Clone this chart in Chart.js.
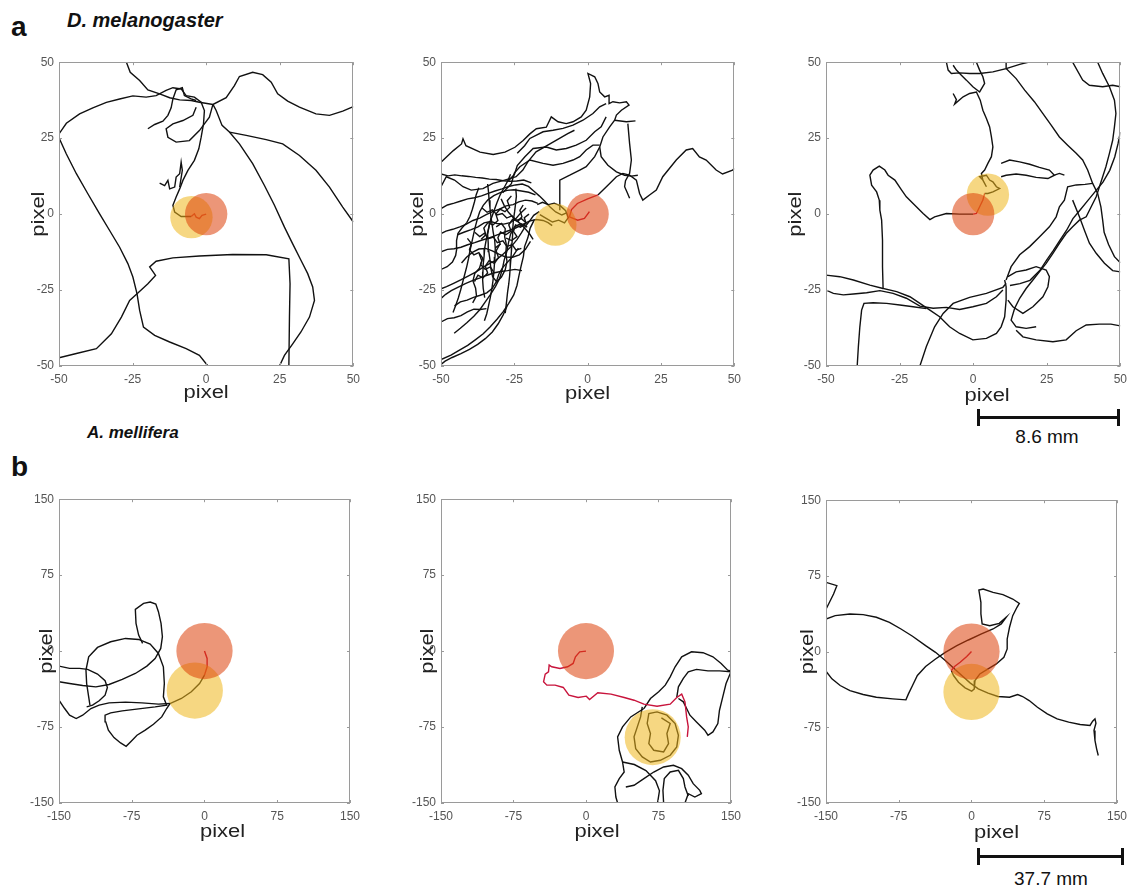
<!DOCTYPE html>
<html>
<head>
<meta charset="utf-8">
<script src="https://cdn.jsdelivr.net/npm/chart.js@4.4.1/dist/chart.umd.min.js"></script>
<style>
    body { margin: 0; width: 1135px; height: 888px; background: #fff; position: relative; overflow: hidden; font-family: "Liberation Sans", Arial, sans-serif; color: #111; }
    canvas { position: absolute; }
    .letter { position: absolute; font-size: 28px; font-weight: bold; line-height: 28px; }
    .species { position: absolute; font-weight: bold; font-style: italic; }
    .bar { position: absolute; background: #111; }
    .barText { position: absolute; width: 140px; text-align: center; font-size: 19px; line-height: 19px; }
</style>
</head>
<body>

<div class="letter" style="left:11px; top:13px;">a</div>
<div class="species" style="left:67px; top:10px; font-size:20px; line-height:20px;">D. melanogaster</div>
<div class="letter" style="left:11px; top:453px;">b</div>
<div class="species" style="left:87px; top:424px; font-size:17px; line-height:17px;">A. mellifera</div>

<div class="bar" style="left:977px; top:416px; width:143px; height:3px;"></div>
<div class="bar" style="left:977px; top:409px; width:3px; height:17px;"></div>
<div class="bar" style="left:1117px; top:409px; width:3px; height:17px;"></div>
<div class="barText" style="left:977px; top:427px;">8.6 mm</div>

<div class="bar" style="left:977px; top:855px; width:147px; height:3px;"></div>
<div class="bar" style="left:977px; top:848px; width:3px; height:17px;"></div>
<div class="bar" style="left:1121px; top:848px; width:3px; height:17px;"></div>
<div class="barText" style="left:981px; top:869px;">37.7 mm</div>

<canvas id="a1"></canvas>
<canvas id="a2"></canvas>
<canvas id="a3"></canvas>
<canvas id="b1"></canvas>
<canvas id="b2"></canvas>
<canvas id="b3"></canvas>

<script>
// axis ticks
const aTicks = [-50, -25, 0, 25, 50];
const bTicks = [-150, -75, 0, 75, 150];

// zone radius (pixel units) and zone centres: [target, other]
const aRadius = 7.2;
const bRadius = 29;
const a1Zones = [[0, 0], [-5, -1]];
const a2Zones = [[0, 0], [-11, -3.5]];
const a3Zones = [[0, 0], [5, 6.4]];
const b1Zones = [[0, 0], [-10, -39]];
const b2Zones = [[0, 0], [69, -85]];
const b3Zones = [[0, 0], [0, -40]];

// ---- D. melanogaster tracks ----
const a1Red = [[0, 0], [-1.4, -0.4], [-2.3, -1.5], [-3.4, -1], [-4, 0.1], [-5.1, -0.8]];
const a1Black = [
    [[-27.1, 50], [-25.8, 46.7], [-22.6, 44], [-19.8, 40.9], [-15.8, 39.6], [-12.4, 38.3], [-9, 37.6], [-5.1, 37.4], [-2.3, 36.8], [2.3, 36.1], [6.8, 38.3], [9.6, 42.3], [11.3, 45.3], [15.8, 46.7], [19.2, 45.9], [22.1, 43.4], [24.3, 39.6], [27.7, 37.2], [31.7, 35.2], [37.3, 33], [41.9, 32.5], [46.4, 33.9], [50, 35.4]],
    [[-50, 26.4], [-47.5, 29.9], [-43, 33], [-38.5, 35], [-33.9, 36.8], [-29.4, 37.9], [-24.9, 38.9], [-20.4, 38.5], [-17, 39], [-13.6, 40.7], [-11.3, 41.6], [-8.5, 41.2], [-6.8, 39], [-4, 38.5], [-1.7, 36.8], [-0.6, 34.1], [-0.9, 29.7], [-1.7, 25.3], [-2.5, 21.5], [-4, 17.7], [-6.2, 14.4], [-7.9, 11.1], [-9, 8.3], [-10.2, 5.6], [-11.3, 2.9], [-10.7, 0.7], [-8.5, -0.8], [-5.1, -0.8]],
    [[-15.8, 10.2], [-14.1, 9.4], [-13, 11.1], [-12.4, 8.3], [-10.7, 8.9], [-10.2, 12.2], [-9, 13.3], [-8.5, 17.1], [-8.1, 14.4], [-9, 8.9]],
    [[2.3, 36.1], [1.1, 31.9], [-2.3, 27.5], [-5.7, 24.2], [-10.2, 23.7], [-13, 25.3], [-13.6, 28.1], [-11.3, 29.7], [-7.9, 30.8], [-4.5, 32.5], [-3.4, 35.2]],
    [[-19.8, 28.1], [-17.5, 29.5], [-14.7, 30.6], [-13, 32.5], [-11.9, 35], [-11.3, 37.9], [-10.2, 40.9], [-8.1, 41.6], [-7.4, 39], [-5.1, 37.9], [-3.4, 37.4]],
    [[-50, 25.1], [-47.5, 19.8], [-44.1, 13.3], [-40.2, 6.7], [-36.2, 0.1], [-32.8, -5.4], [-29.4, -10.9], [-26.6, -16.3], [-24.9, -20.7], [-23.5, -26.2], [-22.6, -31.7], [-21.3, -37.2], [-17.5, -39.9], [-12.4, -42.1], [-6.8, -44.3], [-2.3, -46.5], [0.6, -50]],
    [[-50, -47.3], [-44.1, -45.9], [-37.3, -44.3], [-32.2, -39.4], [-28.8, -33.9], [-26, -28.4], [-23.2, -26], [-19.8, -22.9], [-17.2, -20.2], [-19.2, -17.4], [-17, -15.5], [-11.3, -14.4], [-2.3, -13.8], [9, -13.3], [20.4, -13.4], [28.1, -14.7], [28.5, -22.9], [28.3, -33.9], [28.1, -50]],
    [[2.3, 36.1], [3.4, 34.1], [5.4, 29.2], [7.9, 27], [11.3, 23.1], [15.8, 16.6], [19.8, 9.4], [23.2, 2.9], [26.6, -4.3], [29.4, -9.8], [32.2, -15.2], [34.5, -19.6], [36.2, -24], [36.8, -28.4], [35.1, -33.9], [32.2, -38.8], [29.4, -42.7], [26.6, -46.5], [24.9, -50]],
    [[7.9, 27], [13.6, 25.9], [20.4, 24.5], [26, 23.1], [31.7, 19.3], [37.3, 14.4], [41.9, 8.9], [46.4, 2.3], [50, -2.6]]
];

const a2Red = [[0, 0], [0.6, 0.8], [-1.1, -1.4], [-3.4, -2], [-6.2, -0.9], [-5.5, 1.5], [-3.5, 3.5], [0, 5], [3.5, 6.3]];
const a2Black = [
    [[-50, 17.1], [-45.8, 20.9], [-43, 23.1], [-42.5, 24.8], [-41.5, 22.5], [-36.7, 20.4], [-32.2, 19.6], [-28.2, 20.4], [-24.8, 22], [-22, 24.2], [-19.7, 26.4], [-17.5, 28.1], [-14.1, 28.6], [-12.4, 32], [-10.1, 30.4], [-7.3, 29.8], [-5, 30.4], [-2.2, 32], [-0.5, 34.2], [0.7, 38.6], [1, 43], [0.1, 46.3], [2.4, 45.2], [3.5, 43], [4.1, 40.2], [5.8, 38.6], [7.3, 39.1], [7.3, 36.4], [8.6, 37], [10.9, 36.6], [13.2, 37], [14.1, 35.9], [11.5, 34.2], [9.8, 32.6], [9.2, 30.9], [7.5, 28.7], [5.2, 25.4], [4.1, 22.1], [4.6, 18.9], [6.9, 16.1], [9.8, 13.9], [12.6, 12.8], [14.9, 12.5], [17.1, 12.8]],
    [[9.2, 30.9], [13.2, 30.4], [16.3, 30.7]],
    [[13.7, 29.8], [14.3, 23.2], [14.9, 17.8], [14.3, 13.4], [12.9, 11], [12.6, 9], [13.4, 7.3], [14.3, 5.2]],
    [[3.5, 6.3], [6.9, 9.5], [9.8, 12.3], [12, 13.4], [14.3, 12.8], [16.6, 11.2], [17.7, 6.8], [18.8, 4.6], [21.1, 6.3], [23.4, 7.9], [25.6, 12.3], [30.2, 17.8], [33.6, 21.1], [35.8, 21.6], [38.1, 18.8], [40.4, 17.8], [43.8, 14.5], [46, 13.2], [49.4, 14.5], [50, 15]],
    [[-50, 9], [-48.2, 12.3], [-45.4, 11.2], [-42.5, 9], [-39.7, 7.9], [-35.7, 8.4], [-32.3, 10.1], [-28.3, 11.2], [-24.4, 12.3], [-22.1, 14.5], [-20.4, 17.2], [-17.6, 20.5], [-13.6, 22.7], [-9.6, 24.9], [-6.8, 26.5], [-4.5, 27.6]],
    [[-24, 20], [-21.5, 22.5], [-19.7, 24.9], [-15.2, 27.1], [-11.8, 27.6], [-8.4, 28.2], [-5, 29.3], [-1.6, 30.9], [1.8, 33.1], [4.1, 35.3], [6.3, 36.4]],
    [[-27, 11], [-25, 13], [-24, 16], [-21.4, 18.9], [-18.6, 21.6], [-14.1, 22.1], [-10.7, 21.1], [-7.3, 21.6], [-3.9, 22.7], [-0.5, 24.3], [2.4, 27.1], [4.6, 28.7], [6.3, 32]],
    [[-29, 7], [-26, 10], [-25, 13.5], [-23.1, 15.6], [-19.7, 17.8], [-15.2, 16.7], [-11.8, 16.1], [-8.4, 16.7], [-5, 17.8], [-2.7, 18.9], [-0.5, 21.1], [1.8, 22.7], [4.1, 22.7]],
    [[-9.5, 1.3], [-9.5, 11.2], [-6.1, 12.8], [-2.7, 14.5], [-0.5, 15.6], [2.4, 18.9], [4.1, 22.1]],
    // dense knot on the left
    [[-17, 3.5], [-19, 4.3], [-21.2, 4.6], [-23.5, 4], [-25.4, 3.1], [-27.8, 2.7], [-30.1, 1.6], [-32.2, 0.9], [-34.6, -0.2], [-36.8, -1.3], [-39.1, -2.1], [-41.5, -3.4], [-43.6, -4.2], [-46, -5], [-48.3, -5.6], [-50, -6.4]],
    [[-16.5, 0.8], [-18.4, -0.4], [-19.8, -2.3], [-21.3, -4.1], [-22.6, -6.2], [-24.1, -8.4], [-25.7, -10.3], [-27.4, -11.9], [-29.3, -13.6], [-31.4, -15.2], [-33.5, -16.3], [-35.8, -17.6], [-38.2, -19.1], [-40.6, -20.3], [-43.1, -21.6], [-45.7, -22.8], [-48.1, -23.9], [-50, -24.6]],
    [[-18.2, -1.9], [-19.6, -4.6], [-20.4, -7.8], [-21.5, -10.7], [-21.9, -13.9], [-22.7, -17.1], [-23.4, -20.2], [-24.1, -23.5], [-25.2, -26.6], [-26.9, -29.4], [-28.8, -32.1], [-30.9, -34.6], [-33.2, -37.1], [-35.6, -39.4], [-38.2, -41.3], [-40.9, -43.2], [-43.7, -44.8], [-46.6, -46.4], [-50, -47.9]],
    [[-20.6, -4.3], [-22.8, -3.1], [-24.9, -4.2], [-26.3, -6.6], [-27, -9.5], [-27.6, -12.4], [-28.5, -15.3], [-29.1, -18.2], [-30, -21.1], [-31.4, -23.8], [-33.1, -26.4], [-34.9, -28.9], [-36.7, -31.4], [-38.8, -33.6], [-41.1, -35.7], [-43.4, -37.6], [-45.5, -39.2]],
    [[-17.8, 6.3], [-20.1, 7.2], [-22.6, 7.6], [-25.1, 8], [-27.5, 7.8], [-29.8, 7.1], [-32, 6.1], [-34, 4.7], [-35.6, 2.9], [-36.8, 0.8], [-37.6, -1.6], [-38.3, -4.1], [-38.9, -6.7], [-39.5, -9.3], [-40.1, -11.9], [-40.6, -14.6], [-41.2, -17.2], [-41.9, -19.8], [-42.6, -22.4], [-43.3, -25], [-44.1, -27.6], [-45, -30.1], [-45.9, -32.4]],
    [[-50, 1.8], [-47.8, 3], [-45.5, 3.6], [-43.2, 4.3], [-40.9, 5], [-38.6, 5.4], [-36.2, 6], [-33.9, 6.8], [-31.6, 7.6], [-29.2, 8.3], [-26.9, 9.1], [-24.6, 9.6], [-22.3, 9.9], [-20.2, 9.1], [-18.4, 7.6], [-16.5, 6], [-14.6, 4.2], [-12.8, 2.3], [-10.9, 0.7], [-8.8, -0.3], [-7.2, 0.4]],
    [[-31.2, -4.2], [-29.4, -3.1], [-28.1, -4.8], [-28.3, -7.4], [-27.7, -10.1], [-27.9, -12.9], [-27.5, -15.6], [-28.1, -18.3], [-29.4, -20.7], [-31, -22.3], [-32.4, -20.6], [-33, -17.9], [-33.3, -15.1], [-33.7, -12.3], [-33.9, -9.5], [-34.1, -6.7], [-33.6, -3.9], [-32.9, -1.2]],
    [[-50, -12.4], [-47.8, -11.6], [-45.5, -11.4], [-43.2, -10.9], [-40.9, -10.1], [-38.5, -9.4], [-36.2, -8.6], [-33.8, -7.9], [-31.5, -7.1], [-29.1, -6.2], [-26.8, -5.4], [-24.4, -4.5], [-22.1, -3.4], [-19.9, -2.3], [-17.6, -1.8], [-15.2, -2.1], [-13.5, -2.8], [-12.1, -3.8]],
    [[-50, 13.2], [-47.6, 12.6], [-45.3, 12.9], [-42.9, 12.6], [-40.6, 12.4], [-38.2, 12.1], [-35.9, 11.9], [-33.5, 11.5], [-31.2, 11.4], [-28.8, 11], [-26.5, 10.8], [-24.2, 10.9], [-21.8, 11.2], [-19.2, 10.3]],
    [[-26.3, 13.1], [-27.3, 10.8], [-28.6, 8.5], [-29.9, 6.2], [-30.9, 3.8], [-31.8, 1.4], [-32.7, -1], [-33.5, -3.5], [-34.1, -6], [-34.6, -8.6], [-35.1, -11.2], [-35.3, -13.8], [-35.6, -16.4], [-35.7, -19], [-35.8, -21.7], [-35.6, -24.5], [-35.1, -27.5]],
    [[-45.4, -30.2], [-43.4, -28.9], [-41.1, -28.3], [-38.9, -27.4], [-36.6, -26.7], [-34.4, -25.9], [-32.5, -24.4], [-31.1, -22.2], [-30.3, -19.8], [-29, -17.6], [-27.3, -15.8], [-25.6, -14], [-24.3, -12.1], [-23.6, -11.2]],
    [[-50, -18.2], [-47.9, -17.3], [-46.1, -15.8], [-45, -13.6], [-44.6, -11.2], [-44.7, -8.7], [-44.2, -6.3], [-42.8, -4.5], [-41.2, -2.8], [-40.1, -0.7], [-39.3, 1.6], [-38.6, 4], [-38, 6.4], [-37.1, 8.7]],
    [[-17.2, 3.1], [-15.4, 3.9], [-13.3, 3.1], [-11.4, 3.6], [-9.3, 2.7], [-7.5, 1.1], [-6.6, -1.2], [-7.9, -2.9], [-9.9, -2], [-12, -2.6], [-14, -1.5], [-16.3, -0.2]],
    [[-24.5, 8.4], [-24.3, 5.9], [-24.6, 3.3], [-24.9, 0.8], [-25.3, -1.8], [-25.5, -4.4], [-25.6, -7], [-25.8, -9.7], [-26, -12.3], [-26.2, -15], [-26.4, -17.6], [-26.6, -20.3], [-26.9, -23], [-27.3, -25.7], [-27.6, -28.4], [-28.1, -32.6]],
    [[-34.1, 9.9], [-33.8, 7.3], [-33.6, 4.6], [-33.3, 2], [-33, -0.7], [-32.6, -3.3], [-32.2, -6], [-31.7, -8.6], [-31.5, -11.3], [-31.6, -14], [-31.8, -16.7], [-32, -19.4], [-32.3, -22.1], [-32.7, -24.8], [-33.2, -27.5], [-33.8, -30.2], [-34.4, -32.8], [-35.2, -35.1]],
    [[-22.4, -18.6], [-24.8, -18.2], [-27.3, -18.6], [-29.7, -18.9], [-32.1, -19.4], [-34.5, -20.2], [-36.9, -21.1], [-39.3, -21.9], [-41.7, -22.9], [-44.1, -24], [-46.5, -25.2], [-48.4, -26.4], [-50, -27.8]],
    [[-50, -35.5], [-47.8, -34.4], [-45.5, -34.1], [-43.2, -33.4], [-41, -32.2], [-38.8, -31.3], [-36.6, -31.4], [-34.5, -31.1]],
    [[-27.5, -30.3], [-28.8, -33.2], [-30.5, -36.1], [-32.5, -38.8], [-34.9, -41], [-37.5, -42.9], [-40.3, -44.5], [-43.2, -45.9], [-46.2, -47.2], [-48.6, -48.4], [-50, -49.5]],
    [[-21, 2], [-22.8, 0.4], [-24.5, -1.5], [-26.4, -2.8], [-28.6, -3.3], [-30.9, -3.1], [-33.1, -2.4], [-35.3, -2.9], [-37.4, -4.2], [-39.7, -5.1], [-42, -5.9], [-44.4, -6.8]],
    [[-19.5, -9], [-21.2, -11.6], [-23.3, -13.4], [-25.6, -14.2], [-28, -14.1], [-30.3, -13.2], [-32.5, -12.1], [-34.8, -11.3], [-37.1, -11.5], [-39.3, -12.6], [-41.3, -14.2], [-43, -16.1]],
    [[-29.5, 5], [-28.4, 2.7], [-27, 0.6], [-25.3, -1.2], [-23.4, -2.8], [-21.6, -4.5], [-19.9, -6.4], [-18.6, -8.3]],
    [[-37, -13], [-36.1, -15.4], [-36.9, -17.8], [-38.5, -19.6], [-39.1, -22], [-38.2, -24.4], [-37.9, -26.9], [-39.2, -29.2]],
    [[-22, 3], [-23.1, 1.2], [-22.4, -0.9], [-23.8, -2.4], [-25.6, -1.7], [-26.9, -3.5], [-26.1, -5.6], [-27.9, -6.8], [-29.7, -5.9], [-30.6, -7.8], [-29.8, -9.9], [-31.5, -11.1]],
    [[-36, 2], [-34.3, 0.6], [-32.5, 1.4], [-30.9, -0.3], [-29.1, 0.2], [-27.6, -1.3], [-25.8, -0.6], [-24.3, -2.1], [-22.6, -1.5], [-20.9, -2.9]],
    [[-38.5, -6], [-36.8, -7.4], [-35.2, -6.3], [-33.9, -8.1], [-32.1, -7.6], [-30.8, -9.4], [-28.9, -8.8], [-27.6, -10.6], [-25.7, -10.1], [-24.4, -11.9], [-22.6, -11.3]],
    [[-30, -10], [-31.2, -12.1], [-30.4, -14.3], [-31.8, -16.2], [-33.6, -15.3], [-34.9, -17.1], [-34.1, -19.4], [-35.7, -21], [-37.4, -20.1], [-38.6, -22.2]],
    [[-26, 6], [-27.4, 4.4], [-26.6, 2.2], [-28.2, 0.8], [-29.9, 1.6], [-31.3, 0], [-30.6, -2.1], [-32.3, -3.6], [-34, -2.8], [-35.4, -4.6], [-34.7, -6.8], [-36.3, -8.3]],
    [[-41, -8], [-39.6, -9.7], [-40.3, -11.8], [-38.8, -13.4], [-37.1, -12.7], [-35.8, -14.5], [-36.5, -16.6], [-34.9, -18.2], [-33.2, -17.4], [-31.9, -19.3]],
    [[-20, 0], [-21.6, -1.2], [-21, -3.1], [-22.9, -4.3], [-24.6, -3.6], [-25.3, -5.7], [-24.1, -7.4], [-25.9, -8.7], [-27.8, -7.9]]
];

const a3Red = [[0, 0], [1.1, 0.2], [2.2, 2.4], [3.3, 4.6], [3.9, 6.8]];
const a3Black = [
    [[3.9, 6.8], [5, 6.8], [6.7, 7.3], [9, 8.4], [7.9, 9], [6.7, 10.6], [5.6, 11.2], [4.5, 12.8], [2.2, 12.3], [3.3, 11.2], [4.5, 9], [3.3, 11.2], [2.8, 13.4], [3.9, 14.5], [5, 16.7], [6.2, 18.9], [6.7, 22.1], [6.2, 25.4], [5.6, 28.7], [4.5, 31.5], [3.3, 34.2], [2.4, 37.5], [1.1, 40.2], [-1.2, 39.7], [-3.4, 38.6], [-6.3, 36.2], [-5.7, 37.7], [-6.8, 39.7]],
    [[0, 0], [-4.6, 0], [-9.1, 0.2], [-13.1, -0.9], [-14.7, -1.8], [-17, 0.2], [-19.3, 2.4], [-22.7, 5.7], [-24.3, 7.9], [-26.6, 11.2], [-28.9, 12.8], [-30, 14.5], [-31.9, 15.8], [-34, 14.5], [-35.1, 12.8], [-34.5, 9.5], [-32.8, 7.3], [-31.9, 4.6], [-31.7, 1.3], [-31.1, -2], [-30.8, -8.6], [-30.8, -17.3], [-30.6, -24.5], [-26, -25.5], [-21.5, -27.2], [-18.1, -29.4], [-14.7, -31.6], [-11.4, -33.8], [-8, -37.1], [-4.6, -39.3], [-0.1, -41.4], [4.5, -40.9], [7.9, -39.3], [9.5, -37.1], [10.7, -33.8], [11.2, -28.3], [11.2, -23.9], [10.7, -21.7]],
    [[-50, -20.1], [-45.3, -20.6], [-40.7, -21.7], [-35.1, -23.4], [-30.6, -24.5]],
    [[-50, -25], [-47.5, -26.1], [-44.1, -26.6], [-40.7, -26.3], [-36.2, -25.9], [-31.7, -25.2], [-27.2, -26.1], [-22.7, -27.7], [-18.1, -30.3], [-13.6, -31], [-9.1, -30.7], [-4.6, -31.4], [-0.1, -30.5], [4.5, -29.4], [7.9, -27.2], [10.1, -25]],
    [[-39.4, -50], [-39, -43.6], [-38.5, -37.1], [-37.9, -31.6], [-37.1, -29.4], [-34, -29.2], [-29.4, -29.4], [-24.9, -29.9], [-20.4, -30.5], [-15.9, -31.1]],
    [[-18.1, -50], [-15.9, -43.6], [-13.1, -37.1], [-10.2, -32.7], [-6.8, -29.4], [-1.2, -27.4], [4.5, -26.1], [10.1, -24.1], [11.2, -22.8]],
    [[11.2, -21.7], [12.9, -17.3], [15.8, -13.4], [19.2, -10.7], [22.5, -7.5], [25.9, -4.2], [28.2, -0.9], [29.3, 2.4], [31, 4.6], [32.1, 9], [35, 9.6], [38, 9.8], [40.6, 10.1]],
    [[11.2, 50], [11.2, 47.9], [14.6, 44.6], [17.5, 40.8], [20.8, 37], [23.7, 33.1], [26.5, 29.3], [29.3, 25.4], [32.1, 22.7], [35, 20], [37.2, 17.8], [38.9, 14.5], [40.6, 10.1], [42.3, 6.8], [43.4, 2.4], [44, -2], [44.5, -6], [46, -10], [48, -14], [50, -16]],
    [[42.3, 50], [44, 46.3], [46.3, 41.9], [48, 37.5], [48.5, 33.1], [48, 28.7], [47.4, 24.3], [46.3, 20], [45.1, 15.6], [44, 12.3], [42.9, 9], [41.8, 5.7], [40.1, 2.4], [38.4, -0.9], [36.1, -2], [33.8, -4.2], [31.6, -6.4], [29.3, -9.6], [27.1, -12.9], [24.8, -16.2], [22.5, -19], [20.3, -21.7], [18, -24.5], [15.8, -27.7], [14.1, -31], [12.9, -34.9], [14.6, -37.1], [18, -37.6], [21.4, -37.1]],
    [[33.8, 50], [37.2, 44.1], [39.5, 42.4], [44, 41.9], [47.4, 42.4], [50, 41.9]],
    [[50, 27], [49.2, 23.1], [48.1, 18.8], [46.4, 14.4], [44.1, 10.5], [41.8, 7.8], [39, 4.5], [36.2, 1.2], [33.9, -1.5], [31.7, -5.4], [29.4, -8.7], [27.2, -12], [24.9, -15.2], [22.7, -18.5], [19.3, -21.8], [15.9, -22.9], [12.5, -23.5]],
    [[14.6, -38.2], [16.9, -40.4], [21.4, -41.4], [27.1, -42], [31.6, -41.4], [35, -38.4], [38.4, -36.5], [42.9, -36.2], [46.8, -36.2], [50, -36.8]],
    [[33.8, 4.6], [36.1, -0.9], [37.8, -5.3], [39.5, -9.6], [41.8, -12.9], [44.6, -16.2], [47.4, -18.6], [50, -19]],
    [[11.8, -20.6], [14.6, -19], [18, -18.4], [21.4, -17.3], [24.8, -18.4], [25.9, -20.6], [25.4, -23.9], [23.7, -27.2], [20.3, -30.5], [16.9, -32.7], [13.5, -30.5], [11.8, -28.3]],
    [[-9.1, 50], [-8.5, 47.4], [-7.4, 46.3], [-4.6, 46.5], [-1.2, 46.3], [2.2, 46.3], [6.7, 46.8], [11.2, 47.9], [15.8, 49.3], [18.6, 50]],
    [[1.1, 50], [2.2, 47.4], [3.3, 45.2], [3.9, 43], [2.2, 40.2], [-0.1, 41.9], [-2.3, 44.1], [-4, 45.7], [-5.7, 47.4], [-6.8, 49]],
    [[9.5, 16.7], [12.4, 17.8], [15.8, 17.2], [19.2, 16.4], [22.5, 15.4], [25.9, 14.5], [27.6, 12.8], [25.4, 11.7], [21.4, 12.1], [18, 12.8], [14.6, 13.2], [11.2, 12.8], [9.5, 12.3]],
    [[27.6, 12.8], [29.3, 13.4], [31, 12.8]]
];

// ---- A. mellifera tracks ----
const b1Red = [[0, 0], [2.7, -7.3], [2.7, -15.5], [0, -23.7]];
const b1Black = [
    [[0, -23.7], [-5.1, -32], [-13.6, -40.2], [-23.8, -46.8], [-35.6, -51.8], [-47.5, -52.4], [-64.5, -51.1], [-81.4, -50.4], [-98.4, -51.1], [-108.6, -53.4], [-117.1, -56.7], [-125.6, -63.3], [-132.3, -66.6], [-139.1, -63.3], [-144.2, -56.7], [-150, -48.5]],
    [[-35.6, -51.8], [-39, -56.7], [-44.1, -65], [-52.6, -72.2], [-61.1, -78.1], [-69.6, -83.1], [-76.3, -89.7], [-80.8, -94], [-86.5, -90.7], [-93.3, -85.4], [-99.1, -78.1], [-101.8, -69.9], [-102.5, -63.3], [-96.7, -61], [-84.8, -59], [-67.9, -57], [-50.9, -55.1], [-39, -53.4], [-42.4, -45.2], [-41.4, -32], [-42.4, -15.5], [-47.5, -2.3], [-56, 6.9], [-67.9, 11.5], [-81.4, 12.5], [-96.7, 9.2], [-110.3, 3.6], [-119.4, -5.6], [-122.2, -18.8], [-121.5, -32], [-119.4, -45.2], [-118.1, -53.4]],
    [[-150, -30.3], [-139.1, -32], [-125.6, -34], [-112, -35.3], [-98.4, -33], [-84.8, -28], [-71.3, -22.1], [-59.4, -14.8], [-50.9, -7.3], [-45.1, 2.6], [-43.4, 14.2], [-44.8, 27.4], [-47.5, 38.9], [-50.2, 46.5], [-56, 48.5], [-62.8, 47.1], [-71.3, 41.2], [-70.6, 27.4], [-67.9, 15.8], [-63.8, 7.6]],
    [[-150, -14.8], [-139.1, -17.1], [-128.9, -17.1], [-120.5, -18.1], [-110.3, -22.7], [-102.5, -29.3], [-100.1, -35.9], [-102.5, -43.5], [-108.6, -49.1], [-115.4, -53.4], [-121.5, -55.1]]
];

const b2Red = [[0, 0], [-6.5, -0.7], [-10.9, -5.6], [-13.3, -12.2], [-19, -15.5], [-26.9, -17.1], [-35.4, -15.5], [-38.1, -13.8], [-38.8, -20.4], [-42.2, -22.7], [-43.9, -30.3], [-40.5, -33.6], [-32, -33.6], [-23.5, -35.9], [-17.7, -43.5], [-8.2, -45.8], [0.3, -44.5], [3.7, -47.8], [12.2, -41.2], [25.9, -42.5], [39.5, -45.8], [49.7, -48.5], [59.9, -52.4], [73.5, -54.4], [87.1, -52.4], [93.9, -45.8], [99, -42.5], [102.4, -50.1], [104.1, -65], [105.8, -74.8], [104.8, -84.7]];
const b2Black = [
    [[59.9, -56.7], [66.7, -46.8], [75.2, -40.2], [82, -33.6], [87.1, -25.4], [92.2, -15.5], [99, -5.6], [109.2, -0.7], [121.1, -1.6], [131.3, -5.6], [139.8, -12.2], [146.6, -18.8], [150, -19.5]],
    [[150, -20.4], [144.9, -32], [141.5, -45.2], [138.1, -58.4], [136.4, -71.5], [131.3, -79.8], [126.2, -83.1], [122.8, -78.1], [114.3, -69.9], [107.5, -63.3], [104.1, -56.7], [100.7, -50.1], [95.6, -46.8]],
    [[93.9, -45.8], [95.6, -35.3], [100.7, -27], [105.8, -20.4], [114.3, -18.1], [126.2, -19.5], [138.1, -19.5], [150, -20.4]],
    [[58.2, -55.1], [56.5, -65], [53.1, -74.8], [49.7, -84.7], [51.4, -96.3], [58.2, -104.5], [66.7, -109.5], [76.9, -107.8], [87.1, -102.9], [93.9, -94.6], [95.6, -83.1], [92.2, -71.5], [83.7, -63.3], [73.5, -60], [65, -61.7], [63.3, -71.5], [66.7, -81.4], [65, -91.3], [70.1, -97.9], [80.3, -99.6], [85.4, -91.3], [83.7, -81.4], [87.1, -71.5], [78, -66]],
    [[59.9, -56.7], [46.3, -65], [37.8, -74.8], [32.7, -84.7], [34.4, -97.9], [37.8, -109.5], [39.5, -119.4], [34.4, -125.9], [29.9, -134.2], [30.9, -144.1], [32.7, -150]],
    [[41.2, -134.2], [49.7, -132.5], [59.9, -125.9], [70.1, -119.4], [80.3, -114.4], [90.5, -112.8], [99, -116.1], [105.8, -122.6], [110.9, -130.9], [117.7, -137.5], [119.4, -140.8], [112.6, -144.1], [105.8, -140.8], [102.4, -150]],
    [[80.3, -150], [79.6, -137.5], [81, -125.9], [87.1, -119.4], [95.6, -117.7], [100.7, -125.9], [102.4, -134.2], [105.8, -143]],
    [[37.8, -109.5], [50, -112], [62, -118], [72, -128], [76, -138], [74, -150]]
];

const b3Red = [[0, 0], [-4.9, -4.9], [-11.7, -10.6], [-17.5, -14.8], [-20.8, -18.8]];
const b3Black = [
    [[-150, 32.3], [-140.5, 35.6], [-125.3, 37.3], [-111.7, 36.6], [-98.1, 34], [-84.6, 29], [-72.7, 22.4], [-60.8, 15.2], [-47.3, 5.9], [-37.1, -0.7], [-27, -8.9], [-18.5, -16.2], [-10, -23.7], [-1.5, -31], [7, -36.9], [17.1, -41.2], [27.3, -44.5], [39.2, -45.2], [47.6, -42.5], [52.7, -44.5], [59.5, -48.5], [68, -55.1], [78.1, -61.7], [88.3, -66.6], [100.2, -69.9], [112, -72.2], [122.2, -73.2], [124.9, -68.9], [127.3, -66.6], [128.3, -70.9], [126.3, -78.1], [127.3, -88], [129, -96.3], [130.7, -102.9]],
    [[-150, 68.6], [-138.8, 65.3], [-142.2, 57], [-147.3, 47.1], [-150, 42]],
    [[-150, -19.5], [-143.9, -27], [-135.4, -33.6], [-125.3, -38.6], [-111.7, -42.5], [-98.1, -45.2], [-81.2, -46.8], [-67.6, -47.8], [-65, -41.9], [-60.8, -33.6], [-55.8, -23.7], [-47.3, -14.8], [-37.1, -7.3], [-27, -0.7], [-15.1, 5.9], [-3.2, 11.5], [10.3, 17.5], [22.2, 22.4], [30.7, 27.4], [35.8, 34], [28.6, 28], [18.8, 25.7], [11, 27.4], [9.7, 37.3], [9.7, 48.8], [7.6, 61], [12, 62], [22.2, 58.7], [32.4, 56.4], [42.5, 52.1], [49.3, 47.8], [46.9, 43.9], [42.5, 35.6], [39.2, 24.1], [36.8, 12.5], [36.8, 2.6], [33.4, -5.6], [25.6, -12.2], [17.1, -17.1], [8.6, -22.1], [3.6, -28.7], [2.9, -36.9], [0.2, -39.2], [-6.6, -35.9], [-13.4, -30.3], [-18.5, -23.7], [-20.8, -18.8]]
];

const zoneColors = ['rgba(220, 64, 10, 0.55)', 'rgba(239, 182, 28, 0.55)'];
const trackColor = '#111';
const redTrackColor = '#c8143c';

// axis frame, inward tick marks and the "pixel" titles
const framePlugin = {
    id: 'frame',
    afterDraw(chart, args, opts) {
        const { ctx, chartArea: a, scales } = chart;
        ctx.save();
        ctx.strokeStyle = '#9a9a9a';
        ctx.lineWidth = 1;
        ctx.strokeRect(Math.round(a.left) + 0.5, Math.round(a.top) + 0.5, Math.round(a.right - a.left) - 1, Math.round(a.bottom - a.top) - 1);
        ctx.beginPath();
        scales.x.ticks.forEach(t => {
            const px = Math.round(scales.x.getPixelForValue(t.value)) + 0.5;
            ctx.moveTo(px, a.bottom); ctx.lineTo(px, a.bottom - 3);
            ctx.moveTo(px, a.top); ctx.lineTo(px, a.top + 3);
        });
        scales.y.ticks.forEach(t => {
            const py = Math.round(scales.y.getPixelForValue(t.value)) + 0.5;
            ctx.moveTo(a.left, py); ctx.lineTo(a.left + 3, py);
            ctx.moveTo(a.right, py); ctx.lineTo(a.right - 3, py);
        });
        ctx.stroke();

        // titles are a little wider than the plain font
        ctx.fillStyle = '#222';
        ctx.font = '18px "Liberation Sans", Arial, sans-serif';
        ctx.textAlign = 'center';
        ctx.textBaseline = 'middle';
        ctx.save();
        ctx.translate((a.left + a.right) / 2 + opts.dx, a.bottom + opts.dy);
        ctx.scale(1.22, 1);
        ctx.fillText('pixel', 0, 0);
        ctx.restore();
        ctx.translate(a.left + opts.yx, (a.top + a.bottom) / 2);
        ctx.rotate(-Math.PI / 2);
        ctx.scale(1.22, 1);
        ctx.fillText('pixel', 0, 0);
        ctx.restore();
    }
};

function toPoints(path) {
    return path.map(p => ({ x: p[0], y: p[1] }));
}

function makePanel(id, box, ticks, radius, zones, blackTracks, redTrack, titles) {
    const canvas = document.getElementById(id);
    canvas.width = box.w + 72;
    canvas.height = box.h + 57;
    canvas.style.left = (box.l - 60) + 'px';
    canvas.style.top = (box.t - 12) + 'px';

    const lim = ticks[ticks.length - 1];
    const datasets = [];

    // zones sit over the tracks, target zone on top
    zones.forEach((c, i) => {
        datasets.push({
            data: [{ x: c[0], y: c[1] }],
            showLine: false,
            order: i,
            pointBackgroundColor: zoneColors[i],
            pointBorderWidth: 0,
            pointRadius: ctx => {
                const s = ctx.chart.scales.x;
                return Math.abs(s.getPixelForValue(radius) - s.getPixelForValue(0));
            }
        });
    });

    datasets.push({
        data: toPoints(redTrack),
        showLine: true,
        order: 5,
        borderColor: redTrackColor,
        borderWidth: 1.4,
        pointRadius: 0
    });

    blackTracks.forEach(path => {
        datasets.push({
            data: toPoints(path),
            showLine: true,
            order: 6,
            borderColor: trackColor,
            borderWidth: 1.4,
            pointRadius: 0
        });
    });

    const tickFont = { family: '"Liberation Sans", Arial, sans-serif', size: 12 };

    new Chart(canvas, {
        type: 'scatter',
        data: { datasets: datasets },
        options: {
            responsive: false,
            animation: false,
            events: [],
            layout: { padding: { top: 12, right: 12, left: 0, bottom: 0 } },
            plugins: {
                legend: { display: false },
                tooltip: { enabled: false },
                frame: titles
            },
            scales: {
                x: {
                    min: -lim, max: lim,
                    afterBuildTicks: s => { s.ticks = ticks.map(v => ({ value: v })); },
                    afterFit: s => { s.height = 45; },
                    grid: { display: false, drawTicks: false },
                    border: { display: false },
                    ticks: { color: '#555', font: tickFont, padding: 6, maxRotation: 0, autoSkip: false }
                },
                y: {
                    min: -lim, max: lim,
                    afterBuildTicks: s => { s.ticks = ticks.map(v => ({ value: v })); },
                    afterFit: s => { s.width = 60; },
                    grid: { display: false, drawTicks: false },
                    border: { display: false },
                    ticks: { color: '#555', font: tickFont, padding: 5, autoSkip: false }
                }
            }
        },
        plugins: [framePlugin]
    });
}

makePanel('a1', { l: 59, t: 62, w: 295, h: 304 }, aTicks, aRadius, a1Zones, a1Black, a1Red, { dx: 0, dy: 27, yx: -20 });
makePanel('a2', { l: 441, t: 62, w: 294, h: 304 }, aTicks, aRadius, a2Zones, a2Black, a2Red, { dx: 0, dy: 28, yx: -23 });
makePanel('a3', { l: 826, t: 62, w: 295, h: 304 }, aTicks, aRadius, a3Zones, a3Black, a3Red, { dx: 14, dy: 30, yx: -30 });
makePanel('b1', { l: 59, t: 499, w: 295, h: 304 }, bTicks, bRadius, b1Zones, b1Black, b1Red, { dx: 18, dy: 29, yx: -12 });
makePanel('b2', { l: 441, t: 499, w: 294, h: 304 }, bTicks, bRadius, b2Zones, b2Black, b2Red, { dx: 11, dy: 29, yx: -13 });
makePanel('b3', { l: 826, t: 500, w: 295, h: 303 }, bTicks, bRadius, b3Zones, b3Black, b3Red, { dx: 25, dy: 30, yx: -18 });
</script>
</body>
</html>
